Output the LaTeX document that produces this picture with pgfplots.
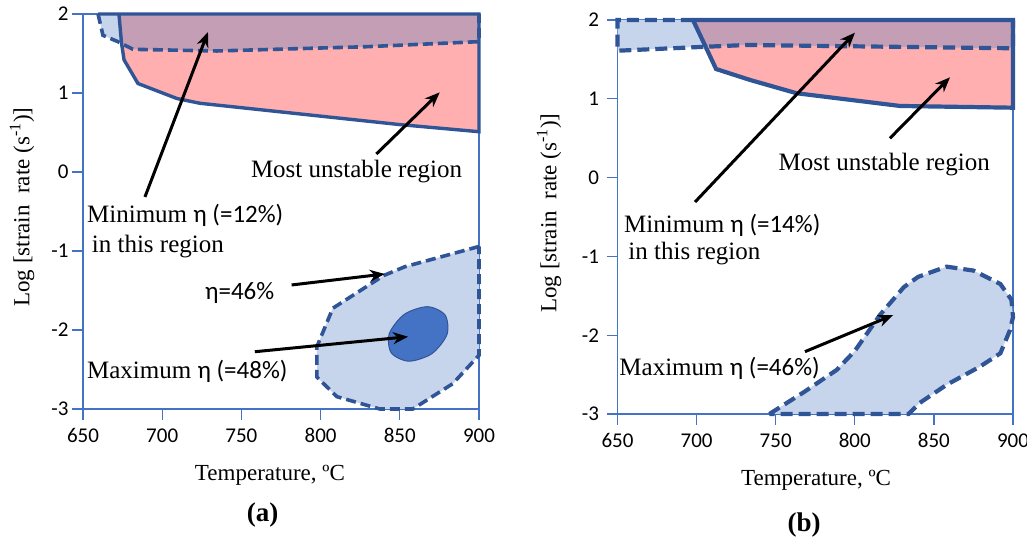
\documentclass[border=0pt]{standalone}
\usepackage{fontspec}
\setmainfont{Liberation Serif}
\newfontfamily\calib{Carlito}
\usepackage{pgfplots}
\pgfplotsset{compat=1.18}
\usetikzlibrary{arrows.meta}
\definecolor{axisblue}{RGB}{68,114,196}
\definecolor{edgeblue}{RGB}{47,85,151}
\definecolor{pinkfill}{RGB}{255,175,175}
\definecolor{purplefill}{RGB}{196,158,180}
\definecolor{lightblue}{RGB}{198,212,236}
\definecolor{ellblue}{RGB}{68,114,196}
\tikzset{
  ann/.style={font=\fontsize{25}{28}\selectfont, inner sep=0pt},
  arr/.style={black, line width=3pt, -{Stealth[length=15pt, width=12pt]}},
}
\begin{document}
\begin{tikzpicture}
\useasboundingbox (0,0) rectangle (1027pt,537pt);
\pgfplotsset{
  panel/.style={
    scale only axis, xmin=650, xmax=900, ymin=-3, ymax=2,
    xtick={650,700,750,800,850,900}, ytick={-3,-2,-1,0,1,2},
    xticklabels={650,700,750,800,850,900}, yticklabels={-3,-2,-1,0,1,2},
    axis line style={draw=axisblue, line width=1.6pt},
    tick style={draw=axisblue, line width=1.2pt},
    tick align=outside, major tick length=11pt, tick pos=left,
    ticklabel style={font=\calib\fontsize{21}{23}\selectfont},
    xticklabel style={yshift=-5pt},
    clip=false,
    label style={font=\fontsize{23}{26}\selectfont},
    xlabel={Temperature, ºC},
    ylabel={Log [strain\ \ rate (s\textsuperscript{-1})]},
  },
}
% ---------------- panel (a) ----------------
\begin{axis}[panel, at={(83pt,128pt)}, anchor=south west, width=396pt, height=395pt,
  xlabel style={at={(axis description cs:0.472,-0.167)}, anchor=center},
  ylabel style={at={(axis description cs:-0.154,0.511)}, anchor=center}]
% top region fills
\addplot[fill=pinkfill, draw=none] coordinates {(672.7,2) (674.3,1.635) (675.9,1.42) (684.7,1.12) (709.3,0.93) (723.8,0.87) (850,0.60) (900,0.51) (900,2)} -- cycle;
\addplot[fill=purplefill, draw=none] coordinates {(672.7,2) (674.3,1.635) (681.5,1.553) (734.5,1.532) (829,1.586) (900,1.65) (900,2)} -- cycle;
\addplot[fill=lightblue, draw=none] coordinates {(659.5,2) (662.6,1.73) (672,1.65) (674.3,1.635) (672.7,2)} -- cycle;
% top region outlines
\addplot[draw=edgeblue, line width=3.6pt, dash pattern=on 10pt off 5pt] coordinates {(659.5,2) (662.6,1.73) (672,1.65) (681.5,1.553) (734.5,1.532) (829,1.586) (900,1.65) (900,2)};
\addplot[draw=edgeblue, line width=3.4pt] coordinates {(659.5,2) (900,2) (900,0.51) (850,0.60) (723.8,0.87) (709.3,0.93) (684.7,1.12) (675.9,1.42) (674.3,1.635) (672.7,2)};
% lower region
\addplot[fill=lightblue, draw=edgeblue, line width=3.6pt, dash pattern=on 10pt off 5pt] coordinates {(900,-0.943) (853.2,-1.199) (839.9,-1.31) (807.7,-1.725) (797.6,-2.215) (797.6,-2.595) (810.3,-2.844) (837.4,-3.0) (858.2,-3.0) (883.4,-2.68) (900,-2.32)} -- cycle;
\addplot[smooth cycle, fill=ellblue, draw=edgeblue, line width=1pt] coordinates {(878.6,-1.811) (867.5,-1.705) (852.9,-1.801) (843.4,-2.044) (844.6,-2.289) (855.7,-2.395) (870.3,-2.299) (879.8,-2.056)};
% arrows
\addplot[arr] coordinates {(689.1,-0.316) (728.9,1.772)};
\addplot[arr] coordinates {(835.2,0.228) (875.2,1.008)};
\addplot[arr] coordinates {(781.7,-1.43) (840.5,-1.291)};
\addplot[arr] coordinates {(758.5,-2.275) (855.2,-2.085)};
% texts
\node[ann, anchor=center] at (axis cs:822.7,0.004) {Most unstable region};
\node[ann, anchor=west] at (axis cs:652.5,-0.544) {Minimum {\calib η (=12\%)}};
\node[ann, anchor=west] at (axis cs:655.5,-0.946) {in this region};
\node[ann, anchor=west] at (axis cs:727.0,-1.532) {{\calib η=46\%}};
\node[ann, anchor=west] at (axis cs:652.5,-2.528) {Maximum {\calib η (=48\%)}};
\end{axis}
% ---------------- panel (b) ----------------
\begin{axis}[panel, at={(617.5pt,123pt)}, anchor=south west, width=395.5pt, height=394pt,
  yticklabel style={xshift=-4pt},
  xlabel style={at={(axis description cs:0.502,-0.168)}, anchor=center},
  ylabel style={at={(axis description cs:-0.173,0.510)}, anchor=center}]
\addplot[fill=pinkfill, draw=none] coordinates {(697.7,2) (705.6,1.665) (712.3,1.378) (733.8,1.239) (763.3,1.07) (828.6,0.909) (900,0.887) (900,2)} -- cycle;
\addplot[fill=purplefill, draw=none] coordinates {(697.7,2) (705.6,1.665) (731.7,1.683) (900,1.641) (900,2)} -- cycle;
\addplot[fill=lightblue, draw=none] coordinates {(650,2) (650,1.61) (705.6,1.665) (697.7,2)} -- cycle;
\addplot[draw=edgeblue, line width=4.2pt, dash pattern=on 12pt off 6pt] coordinates {(697.7,2) (650,2) (650,1.61) (706.4,1.661) (731.7,1.683) (900,1.641) (900,2)};
\addplot[draw=edgeblue, line width=4.2pt] coordinates {(697.7,2) (900,2) (900,0.887) (828.6,0.909) (763.3,1.07) (733.8,1.239) (712.3,1.378) (705.6,1.665) (697.7,2)};
\addplot[fill=lightblue, draw=edgeblue, line width=4.2pt, dash pattern=on 12pt off 6pt] coordinates {(746,-3.0) (768,-2.72) (788.6,-2.44) (800,-2.2) (816,-1.74) (831,-1.39) (840,-1.26) (858,-1.13) (875,-1.18) (892,-1.35) (899,-1.55) (900,-1.77) (898,-1.94) (892,-2.23) (879,-2.40) (858,-2.63) (841,-2.86) (834,-3.0)} -- cycle;
\addplot[arr] coordinates {(699.0,-0.31) (800.1,1.839)};
\addplot[arr] coordinates {(822.2,0.499) (860.2,1.273)};
\addplot[arr] coordinates {(768.5,-2.209) (824.3,-1.744)};
\node[ann, anchor=center] at (axis cs:818.6,0.160) {Most unstable region};
\node[ann, anchor=west] at (axis cs:654.1,-0.602) {Minimum {\calib η (=14\%)}};
\node[ann, anchor=west] at (axis cs:656.8,-0.961) {in this region};
\node[ann, anchor=west] at (axis cs:651.1,-2.420) {Maximum {\calib η (=46\%)}};
\end{axis}
\node[font=\bfseries\fontsize{27}{29}\selectfont] at (262.5pt,22pt) {(a)};
\node[font=\bfseries\fontsize{27}{29}\selectfont] at (804pt,12pt) {(b)};
\end{tikzpicture}
\end{document}
